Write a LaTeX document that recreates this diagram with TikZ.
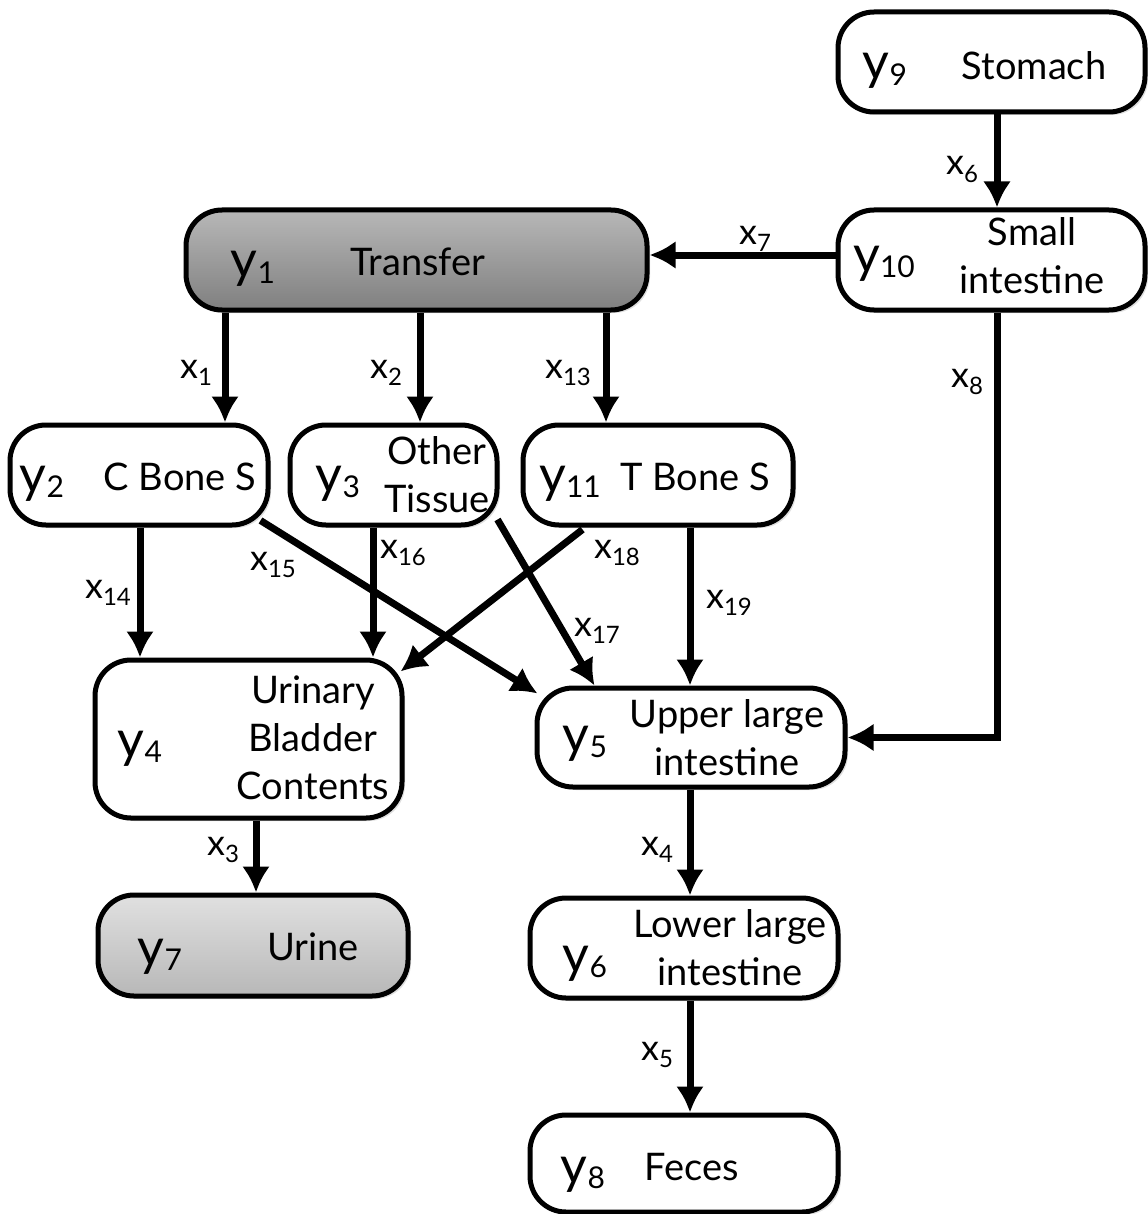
\documentclass[tikz,border=0pt]{standalone}
\usepackage{fontspec}
\setmainfont{Lato}
\usetikzlibrary{arrows.meta,shadows}
\newcommand{\yvar}[1]{{\fontsize{26}{26}\selectfont y}\raisebox{-0.5ex}{\fontsize{15}{15}\selectfont #1}}
\newcommand{\xvar}[1]{x\raisebox{-0.4ex}{\fontsize{12}{12}\selectfont #1}}

\begin{document}
\begin{tikzpicture}[x=0.5pt, y=-0.5pt,
			box/.style args={#1/#2}{draw, line width=2.5pt, rounded corners=18pt, minimum width=#1*0.5pt, minimum height=#2*0.5pt,
				inner sep=0pt, drop shadow={opacity=0.25, shadow xshift=1.5pt, shadow yshift=-1.5pt}},
			plain/.style={fill=white},
			dark/.style={top color=black!28, bottom color=black!50},
			light/.style={top color=black!12, bottom color=black!28},
			flow/.style={-{Latex[length=13pt,width=14pt]}, line width=3.5pt},   % Pfeile
			lbl/.style={font=\fontsize{18}{18}\selectfont, anchor=base, inner sep=0pt},
			txt/.style={font=\fontsize{19}{24}\selectfont, align=center, anchor=base, inner sep=0pt},
			yv/.style={anchor=base, inner sep=0pt}]
			\useasboundingbox (0,0) rectangle (1147,1214);
			% Kaesten
			\node[box=307/100, plain] (st) at (991.5,62) {};
			\node[box=307/100, plain] (si) at (991.5,260) {};
			\node[box=461/100, dark] (tr) at (416.5,260) {};
			\node[box=258/100, plain] (cb) at (139,475) {};
			\node[box=207/100, plain] (ot) at (393.5,475) {};
			\node[box=270/100, plain] (tb) at (658,475) {};
			\node[box=307/158, plain] (ub) at (248.5,739) {};
			\node[box=308/99, plain] (ul) at (691,737.5) {};
			\node[box=310/101, light] (ur) at (253,945.5) {};
			\node[box=308/100, plain] (ll) at (684,948) {};
			\node[box=308/97, plain] (fe) at (684,1163.5) {};
			% Texte (Grundlinie der letzten Zeile)
			\node[yv] (y9) at (885,80) {\yvar{9}};
			\node[txt] (t9) at (1034,80) {Stomach};
			\node[yv] (y10) at (884,272) {\yvar{10}};
			\node[txt] (t10) at (1032,293) {Small\\intestine};
			\node[yv] (y1) at (253,278) {\yvar{1}};
			\node[txt] (t1) at (418,275) {Transfer};
			\node[yv] (y2) at (42,492) {\yvar{2}};
			\node[txt] (t2) at (180,490) {C Bone S};
			\node[yv] (y3) at (338,492) {\yvar{3}};
			\node[txt] (t3) at (437,512) {Other\\Tissue};
			\node[yv] (y11) at (570,492) {\yvar{11}};
			\node[txt] (t11) at (695,490) {T Bone S};
			\node[yv] (y4) at (140,757) {\yvar{4}};
			\node[txt] (t4) at (313,799) {Urinary\\Bladder\\Contents};
			\node[yv] (y5) at (585,752) {\yvar{5}};
			\node[txt] (t5) at (727,775) {Upper large\\intestine};
			\node[yv] (y7) at (160,965) {\yvar{7}};
			\node[txt] (t7) at (313,960) {Urine};
			\node[yv] (y6) at (585,972) {\yvar{6}};
			\node[txt] (t6) at (730,985) {Lower large\\intestine};
			\node[yv] (y8) at (583,1183) {\yvar{8}};
			\node[txt] (t8) at (692,1180) {Feces};
			% Fluesse
			\draw[flow] ([shift={(5.5,0)}]st.south) -- ([shift={(5.5,0)}]si.north);
			\draw[flow] ([shift={(0,-5)}]si.west) -- ([shift={(0,-5)}]tr.east);
			\draw[flow] ([shift={(5.5,0)}]si.south) |- (ul.east);
			\draw[flow] ([shift={(-191.5,0)}]tr.south) -- ([shift={(86,0)}]cb.north);
			\draw[flow] ([shift={(3.5,0)}]tr.south) -- ([shift={(26.5,0)}]ot.north);
			\draw[flow] ([shift={(189.5,0)}]tr.south) -- ([shift={(-52,0)}]tb.north);
			\draw[flow] ([shift={(1,0)}]cb.south) -- ([shift={(-108.5,0)}]ub.north);
			\draw[flow] ([shift={(-10,-7)}]cb.south east) -- ([shift={(3,8)}]ul.north west);
			\draw[flow] ([shift={(-20.5,0)}]ot.south) -- ([shift={(124.5,0)}]ub.north);
			\draw[flow] ([shift={(-2,-8)}]ot.south east) -- ([shift={(60,0)}]ul.north west);
			\draw[flow] ([shift={(62,2)}]tb.south west) -- ([shift={(-4,14)}]ub.north east);
			\draw[flow] ([shift={(32,0)}]tb.south) -- ([shift={(-1,0)}]ul.north);
			\draw[flow] ([shift={(7.5,0)}]ub.south) -- ([shift={(3,0)}]ur.north);
			\draw[flow] ([shift={(-1,0)}]ul.south) -- ([shift={(6,0)}]ll.north);
			\draw[flow] ([shift={(6,0)}]ll.south) -- ([shift={(6,0)}]fe.north);
			% Beschriftung
			\node[lbl] (l6) at (962,175) {\xvar{6}};
			\node[lbl] (l7) at (755,244) {\xvar{7}};
			\node[lbl] (l8) at (967,387) {\xvar{8}};
			\node[lbl] (l1) at (196,378) {\xvar{1}};
			\node[lbl] (l2) at (386,378) {\xvar{2}};
			\node[lbl] (l13) at (568,378) {\xvar{13}};
			\node[lbl] (l14) at (108,598) {\xvar{14}};
			\node[lbl] (l15) at (273,570) {\xvar{15}};
			\node[lbl] (l16) at (403,558) {\xvar{16}};
			\node[lbl] (l18) at (617,558) {\xvar{18}};
			\node[lbl] (l19) at (729,608) {\xvar{19}};
			\node[lbl] (l17) at (597,636) {\xvar{17}};
			\node[lbl] (l3) at (223,855) {\xvar{3}};
			\node[lbl] (l4) at (657,855) {\xvar{4}};
			\node[lbl] (l5) at (657,1060) {\xvar{5}};
		\end{tikzpicture}
\end{document}
